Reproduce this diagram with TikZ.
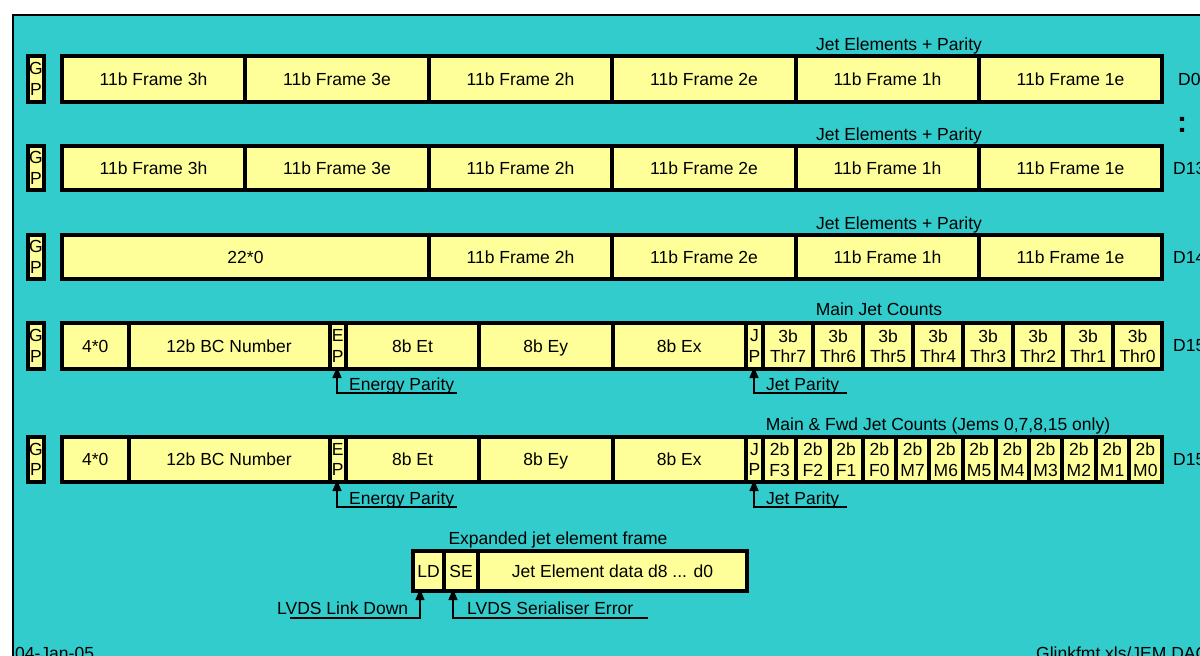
\documentclass[tikz,border=0pt]{standalone}
\usepackage{fontspec}
\setmainfont{Liberation Sans}
\usetikzlibrary{arrows.meta}
\definecolor{bgteal}{HTML}{33CCCC}
\definecolor{cellyel}{HTML}{FFFF99}
\newcommand\bitcell[6]{\node[cell, minimum width={(#3)-(#2)}, minimum height={(#5)-(#4)}] (#1) at ({((#2)+(#3))/2},{((#4)+(#5))/2}) {#6};}
\begin{document}
\begin{tikzpicture}[x=1pt,y=-1pt,
  cell/.style={draw=black, line width=4pt, fill=cellyel, inner sep=0pt, outer sep=0pt, align=center, font=\fontsize{17.5}{20.5}\selectfont},
  lbl/.style={font=\fontsize{17.5}{20.5}\selectfont, inner sep=0pt},
  ptr/.style={line width=1.5pt, -{Triangle[width=9pt,length=11pt]}, shorten >=-2pt},
]
\useasboundingbox (0,0) rectangle (1200,656);
\clip (0,0) rectangle (1200,656);
\fill[white] (0,0) rectangle (1200,656);
\fill[bgteal] (12.5,14.5) rectangle (1205,660);
\draw[line width=2pt] (12.5,660) -- (12.5,14.5) -- (1205,14.5);

% rows 1 and 2
\foreach \r/\ya/\yb in {1/56/102, 2/146/190} {
  \bitcell{r\r gp}{28}{44}{\ya}{\yb}{G\\P}
  \foreach \a/\b/\t [count=\i] in {62/245/3h,245/429/3e,429/612/2h,612/796/2e,796/979/1h,979/1162/1e} {
    \bitcell{r\r c\i}{\a}{\b}{\ya}{\yb}{11b Frame \t}
  }
}
% row 3
\bitcell{r3gp}{28}{44}{235}{279}{G\\P}
\bitcell{r3z}{62}{429}{235}{279}{22*0}
\foreach \a/\b/\t [count=\i] in {429/612/2h,612/796/2e,796/979/1h,979/1162/1e} {
  \bitcell{r3c\i}{\a}{\b}{235}{279}{11b Frame \t}
}

% rows 4 and 5 common part
\foreach \r/\ya/\yb in {4/323/369, 5/437/482} {
  \bitcell{r\r gp}{28}{44}{\ya}{\yb}{G\\P}
  \bitcell{r\r z}{62}{128.5}{\ya}{\yb}{4*0}
  \bitcell{r\r bc}{128.5}{329.5}{\ya}{\yb}{12b BC Number}
  \bitcell{r\r ep}{329.5}{346}{\ya}{\yb}{E\\P}
  \bitcell{r\r et}{346}{479}{\ya}{\yb}{8b Et}
  \bitcell{r\r ey}{479}{612.5}{\ya}{\yb}{8b E\smash{y}}
  \bitcell{r\r ex}{612.5}{746}{\ya}{\yb}{8b Ex}
  \bitcell{r\r jp}{746}{763}{\ya}{\yb}{J\\P}
}
% row 4 thresholds
\foreach \a/\b/\t [count=\i] in {763/813/7,813/863/6,863/913/5,913/963/4,963/1013/3,1013/1063/2,1063/1113/1,1113/1162/0} {
  \bitcell{r4t\i}{\a}{\b}{323}{369}{3b\\Thr\t}
}
% row 5 jet counts
\foreach \t [count=\i from 0] in {F3,F2,F1,F0,M7,M6,M5,M4,M3,M2,M1,M0} {
  \bitcell{r5t\i}{763+33.25*\i}{763+33.25*(\i+1)}{437}{482}{2b\\\t}
}

% parity arrows
\foreach \r/\ly/\ty in {4/393/390, 5/507/504} {
  \coordinate (r\r ea) at (337,\ly);
  \coordinate (r\r ee) at (457,\ly);
  \draw[ptr] (r\r ee) -- (r\r ea) -- (r\r ea |- r\r ep.south);
  \node[lbl, anchor=base west] (r\r el) at (349,\ty) {Energy Parity};
  \coordinate (r\r ja) at (754,\ly);
  \coordinate (r\r je) at (847,\ly);
  \draw[ptr] (r\r je) -- (r\r ja) -- (r\r ja |- r\r jp.south);
  \node[lbl, anchor=base west] (r\r jl) at (766,\ty) {Jet Parity};
}

% expanded frame
\bitcell{xld}{413}{444}{551}{591}{LD}
\bitcell{xse}{444}{478}{551}{591}{SE}
\bitcell{xdata}{478}{747}{551}{591}{Jet Element data d8 ... d0}
\coordinate (ldc) at (420,618);
\coordinate (lde) at (290,618);
\draw[ptr] (lde) -- (ldc) -- (ldc |- xld.south);
\coordinate (sec) at (453,618);
\coordinate (see) at (648,618);
\draw[ptr] (see) -- (sec) -- (sec |- xse.south);
\node[lbl, anchor=base west] (ldl) at (277,614) {LVDS Link Down};
\node[lbl, anchor=base west] (sel) at (467,614) {LVDS Serialiser Error};

% titles
\node[lbl, anchor=base] (t1) at (899,50) {Jet Elements + Parity};
\node[lbl, anchor=base] (t2) at (899,140) {Jet Elements + Parity};
\node[lbl, anchor=base] (t3) at (899,229) {Jet Elements + Parity};
\node[lbl, anchor=base] (t4) at (879,315) {Main Jet Counts};
\node[lbl, anchor=base] (t5) at (938,430) {Main \& Fwd Jet Counts (Jems 0,7,8,15 only)};
\node[lbl, anchor=base] (t6) at (558,544) {Expanded jet element frame};

% right labels
\node[lbl, anchor=west] (d0) at (1178,79) {D0};
\node[lbl, anchor=center, font=\fontsize{30}{34}\selectfont\bfseries] (dots) at (1182,125) {:};
\node[lbl, anchor=west] (d13) at (1173,168) {D13};
\node[lbl, anchor=west] (d14) at (1173,257) {D14};
\node[lbl, anchor=west] (d15a) at (1173,346) {D15};
\node[lbl, anchor=west] (d15b) at (1173,460) {D15};

% footer
\node[lbl, anchor=base west] (date) at (15,659) {04-Jan-05};
\node[lbl, anchor=base west] (file) at (1036,659) {Glinkfmt.xls/JEM DAQ};
\end{tikzpicture}
\end{document}
